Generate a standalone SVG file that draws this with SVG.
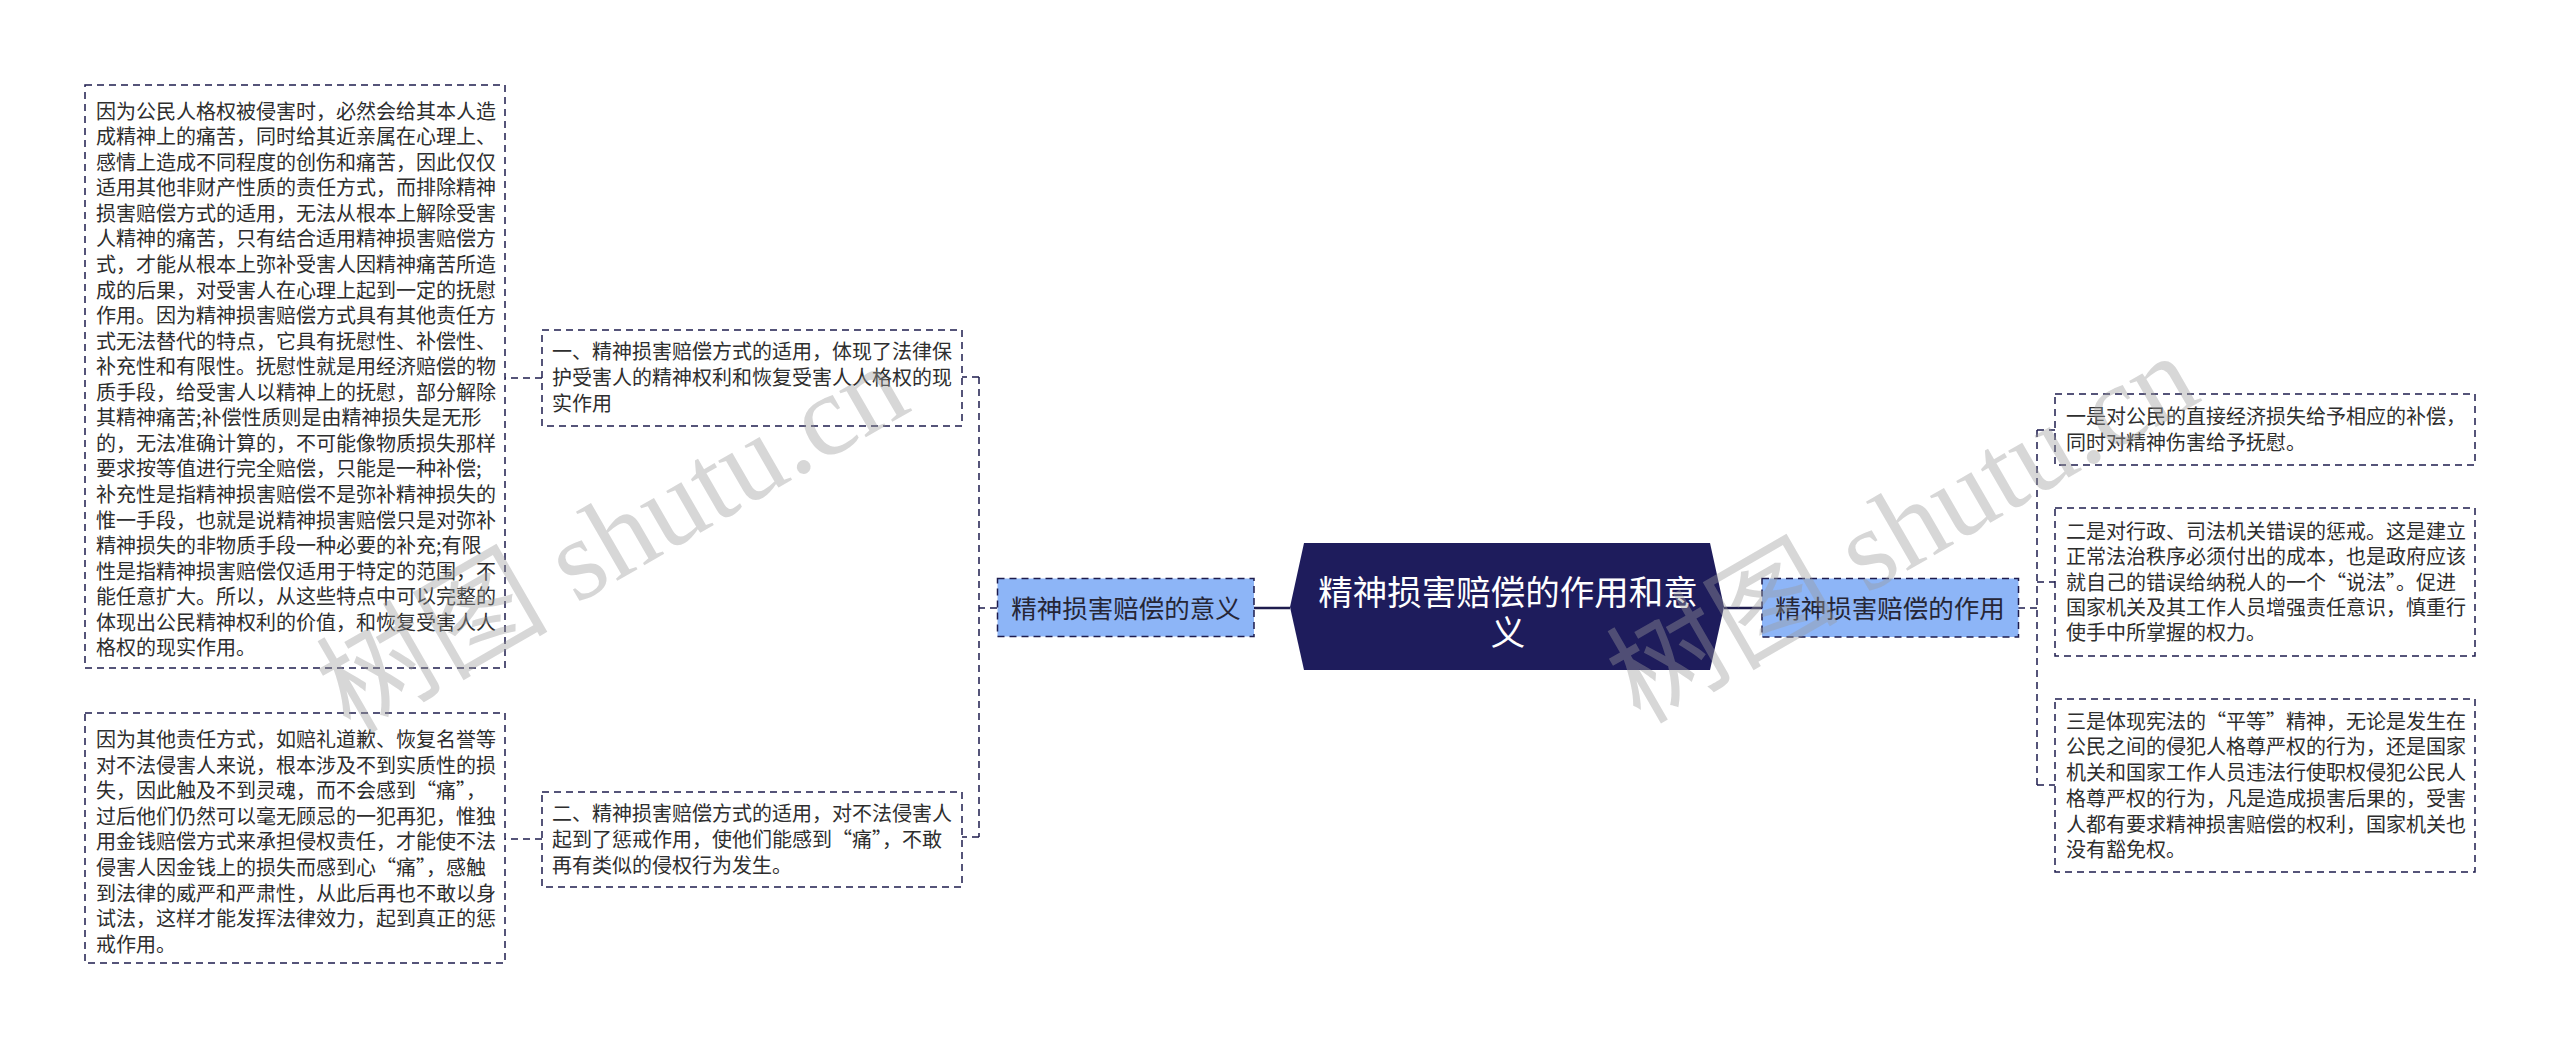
<svg xmlns="http://www.w3.org/2000/svg" width="2560" height="1049" viewBox="0 0 2560 1049">
<style>
.box{fill:#ffffff;stroke:#1e1c4e;stroke-width:1.5;stroke-dasharray:7 5}
.sub{fill:#8db5f7;stroke:#1e1c4e;stroke-width:1.5;stroke-dasharray:7 5}
.t{font-family:"Noto Sans CJK SC","Noto Sans",sans-serif;font-size:20px;fill:#2e2e2e}
.st{font-family:"Noto Sans CJK SC","Noto Sans",sans-serif;font-size:25.5px;fill:#262636;text-anchor:middle}
.ct{font-family:"Noto Sans CJK SC","Noto Sans",sans-serif;font-size:34.5px;fill:#ffffff;text-anchor:middle}
.dash{fill:none;stroke:#1e1c4e;stroke-width:1.5;stroke-dasharray:7 5}
.solid{fill:none;stroke:#1e1c4e;stroke-width:2.5}
.wm{font-family:"Liberation Serif","Noto Sans CJK SC",serif;font-size:116px;fill:#9a9a9a;fill-opacity:0.4}
</style>
<rect width="2560" height="1049" fill="#ffffff"/>
<g id="connectors">
<path class="solid" d="M1254,608 H1290"/>
<path class="solid" d="M1724,608 H1762"/>
<path class="dash" d="M997,608 H979 M979,377 V837 M979,377 H962 M979,837 H962"/>
<path class="dash" d="M542,378 H505"/>
<path class="dash" d="M542,839 H505"/>
<path class="dash" d="M2018,608 H2037 M2037,430 V785 M2037,430 H2055 M2037,582 H2055 M2037,785 H2055"/>
</g>
<g id="center">
<polygon points="1290,607 1304,543 1710,543 1724,607 1710,670 1304,670" fill="#1e1c5c"/>
<text class="ct" x="1508" y="604.5">精神损害赔偿的作用和意</text>
<text class="ct" x="1508" y="644.5">义</text>
</g>
<g id="meaning">
<rect class="sub" x="997.5" y="578.5" width="256.5" height="58"/>
<text class="st" x="1126" y="617.5">精神损害赔偿的意义</text>
</g>
<g id="effect">
<rect class="sub" x="1762" y="578.5" width="256.5" height="58.5"/>
<text class="st" x="1890" y="617.5">精神损害赔偿的作用</text>
</g>
<g id="m1">
<rect class="box" x="542" y="330" width="420" height="96"/>
<text class="t"><tspan x="552" y="359">一、精神损害赔偿方式的适用，体现了法律保</tspan><tspan x="552" y="385">护受害人的精神权利和恢复受害人人格权的现</tspan><tspan x="552" y="411">实作用</tspan></text>
</g>
<g id="m2">
<rect class="box" x="542" y="792" width="420" height="95"/>
<text class="t"><tspan x="552" y="820.5">二、精神损害赔偿方式的适用，对不法侵害人</tspan><tspan x="552" y="846.5">起到了惩戒作用，使他们能感到“痛”，不敢</tspan><tspan x="552" y="872.5">再有类似的侵权行为发生。</tspan></text>
</g>
<g id="m1d">
<rect class="box" x="85" y="85" width="420" height="583"/>
<text class="t"><tspan x="96" y="118.7">因为公民人格权被侵害时，必然会给其本人造</tspan><tspan x="96" y="144.25">成精神上的痛苦，同时给其近亲属在心理上、</tspan><tspan x="96" y="169.8">感情上造成不同程度的创伤和痛苦，因此仅仅</tspan><tspan x="96" y="195.35">适用其他非财产性质的责任方式，而排除精神</tspan><tspan x="96" y="220.9">损害赔偿方式的适用，无法从根本上解除受害</tspan><tspan x="96" y="246.45">人精神的痛苦，只有结合适用精神损害赔偿方</tspan><tspan x="96" y="272">式，才能从根本上弥补受害人因精神痛苦所造</tspan><tspan x="96" y="297.55">成的后果，对受害人在心理上起到一定的抚慰</tspan><tspan x="96" y="323.1">作用。因为精神损害赔偿方式具有其他责任方</tspan><tspan x="96" y="348.65">式无法替代的特点，它具有抚慰性、补偿性、</tspan><tspan x="96" y="374.2">补充性和有限性。抚慰性就是用经济赔偿的物</tspan><tspan x="96" y="399.75">质手段，给受害人以精神上的抚慰，部分解除</tspan><tspan x="96" y="425.3">其精神痛苦;补偿性质则是由精神损失是无形</tspan><tspan x="96" y="450.85">的，无法准确计算的，不可能像物质损失那样</tspan><tspan x="96" y="476.4">要求按等值进行完全赔偿，只能是一种补偿;</tspan><tspan x="96" y="501.95">补充性是指精神损害赔偿不是弥补精神损失的</tspan><tspan x="96" y="527.5">惟一手段，也就是说精神损害赔偿只是对弥补</tspan><tspan x="96" y="553.05">精神损失的非物质手段一种必要的补充;有限</tspan><tspan x="96" y="578.6">性是指精神损害赔偿仅适用于特定的范围，不</tspan><tspan x="96" y="604.15">能任意扩大。所以，从这些特点中可以完整的</tspan><tspan x="96" y="629.7">体现出公民精神权利的价值，和恢复受害人人</tspan><tspan x="96" y="655.25">格权的现实作用。</tspan></text>
</g>
<g id="m2d">
<rect class="box" x="85" y="713" width="420" height="250"/>
<text class="t"><tspan x="96" y="747">因为其他责任方式，如赔礼道歉、恢复名誉等</tspan><tspan x="96" y="772.6">对不法侵害人来说，根本涉及不到实质性的损</tspan><tspan x="96" y="798.2">失，因此触及不到灵魂，而不会感到“痛”，</tspan><tspan x="96" y="823.8">过后他们仍然可以毫无顾忌的一犯再犯，惟独</tspan><tspan x="96" y="849.4">用金钱赔偿方式来承担侵权责任，才能使不法</tspan><tspan x="96" y="875">侵害人因金钱上的损失而感到心“痛”，感触</tspan><tspan x="96" y="900.6">到法律的威严和严肃性，从此后再也不敢以身</tspan><tspan x="96" y="926.2">试法，这样才能发挥法律效力，起到真正的惩</tspan><tspan x="96" y="951.8">戒作用。</tspan></text>
</g>
<g id="e1">
<rect class="box" x="2055" y="394" width="420" height="71"/>
<text class="t"><tspan x="2066" y="423.5">一是对公民的直接经济损失给予相应的补偿，</tspan><tspan x="2066" y="449.5">同时对精神伤害给予抚慰。</tspan></text>
</g>
<g id="e2">
<rect class="box" x="2055" y="508" width="420" height="148"/>
<text class="t"><tspan x="2066" y="538.7">二是对行政、司法机关错误的惩戒。这是建立</tspan><tspan x="2066" y="564.1">正常法治秩序必须付出的成本，也是政府应该</tspan><tspan x="2066" y="589.5">就自己的错误给纳税人的一个“说法”。促进</tspan><tspan x="2066" y="614.9">国家机关及其工作人员增强责任意识，慎重行</tspan><tspan x="2066" y="640.3">使手中所掌握的权力。</tspan></text>
</g>
<g id="e3">
<rect class="box" x="2055" y="699" width="420" height="173"/>
<text class="t"><tspan x="2066" y="728.7">三是体现宪法的“平等”精神，无论是发生在</tspan><tspan x="2066" y="754.4">公民之间的侵犯人格尊严权的行为，还是国家</tspan><tspan x="2066" y="780.1">机关和国家工作人员违法行使职权侵犯公民人</tspan><tspan x="2066" y="805.8">格尊严权的行为，凡是造成损害后果的，受害</tspan><tspan x="2066" y="831.5">人都有要求精神损害赔偿的权利，国家机关也</tspan><tspan x="2066" y="857.2">没有豁免权。</tspan></text>
</g>
<g id="watermark">
<text class="wm" transform="translate(350,735) rotate(-30)">树图 shutu.cn</text>
<text class="wm" transform="translate(1640,725) rotate(-30)">树图 shutu.cn</text>
</g>
</svg>
